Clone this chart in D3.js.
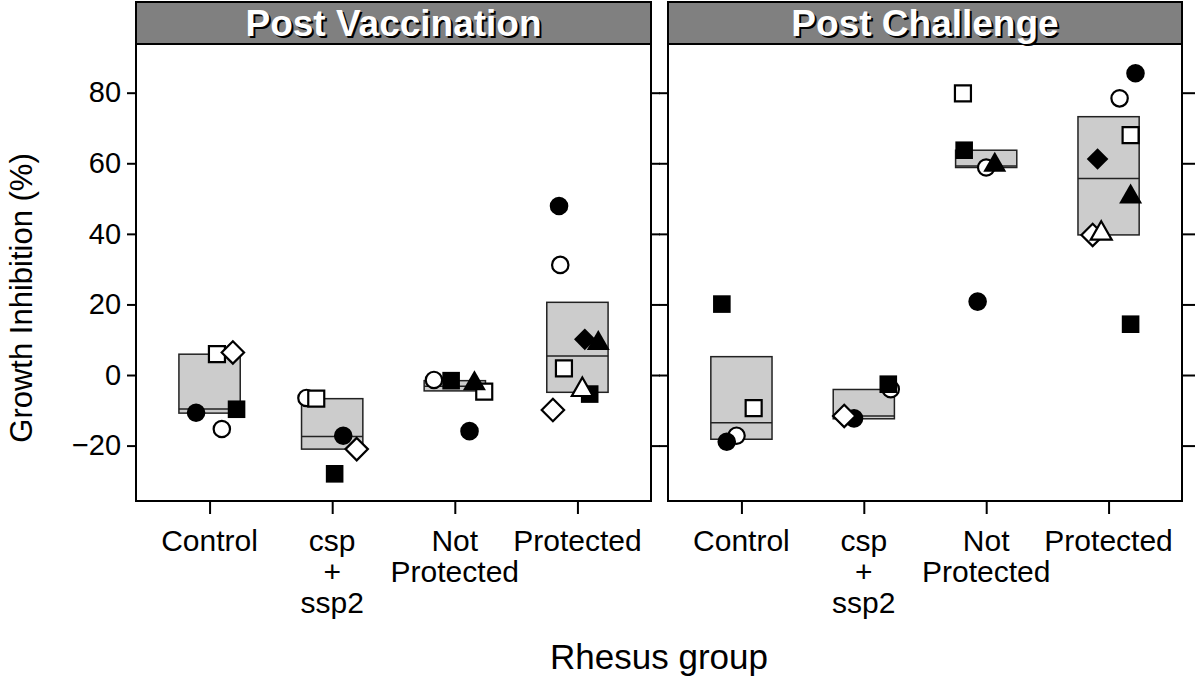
<!DOCTYPE html>
<html>
<head>
<meta charset="utf-8">
<script src="https://cdn.jsdelivr.net/npm/d3@7"></script>
<style>
  body { margin: 0; background: #fff; }
  svg { display: block; }
  text { font-family: "Liberation Sans", Arial, Helvetica, sans-serif; }
</style>
</head>
<body>
<svg id="chart" width="1200" height="677"></svg>
<script>
// ---------------- data ----------------
const panelTitles = ["Post Vaccination", "Post Challenge"];
const groups = ["Control", "csp+ssp2", "Not Protected", "Protected"];
const groupLabelLines = [["Control"], ["csp", "+", "ssp2"], ["Not", "Protected"], ["Protected"]];
const yTicks = [-20, 0, 20, 40, 60, 80];
const yTitle = "Growth Inhibition (%)";
const xTitle = "Rhesus group";

// box summaries per group: [low, median, high]
const boxPostVaccination = [[-10.8, -9.6, 5.9], [-21.0, -17.4, -6.7], [-4.5, -3.2, -1.6], [-4.9, 5.4, 20.6]];
const boxPostChallenge   = [[-18.2, -13.5, 5.2], [-12.4, -11.6, -4.1], [58.8, 59.2, 63.7], [39.7, 55.7, 73.2]];

// animals: [group index, symbol, value (%), horizontal jitter (category units)]
const animalsPostVaccination = [
  [0, "openCircle", -15.3, 0.10], [0, "filledCircle", -10.7, -0.11], [0, "openSquare", 5.9, 0.06],
  [0, "filledSquare", -9.7, 0.22], [0, "openDiamond", 6.4, 0.19],
  [1, "openCircle", -6.5, -0.21], [1, "filledCircle", -17.2, 0.09], [1, "openSquare", -6.7, -0.13],
  [1, "filledSquare", -28.0, 0.02], [1, "openDiamond", -21.0, 0.20],
  [2, "openCircle", -1.4, -0.17], [2, "filledCircle", -15.9, 0.12], [2, "openSquare", -4.7, 0.24],
  [2, "filledSquare", -1.6, -0.03], [2, "filledTriangle", -2.4, 0.16],
  [3, "openCircle", 31.2, -0.14], [3, "filledCircle", 47.9, -0.15], [3, "openSquare", 1.9, -0.11],
  [3, "filledSquare", -5.4, 0.10], [3, "openDiamond", -9.9, -0.20], [3, "filledDiamond", 10.1, 0.06],
  [3, "openTriangle", -4.2, 0.04], [3, "filledTriangle", 9.0, 0.17]
];
const animalsPostChallenge = [
  [0, "openCircle", -17.2, -0.04], [0, "filledCircle", -18.9, -0.12], [0, "openSquare", -9.4, 0.10],
  [0, "filledSquare", 20.1, -0.16],
  [1, "openCircle", -4.0, 0.22], [1, "filledCircle", -12.3, -0.08], [1, "filledSquare", -2.6, 0.20],
  [1, "openDiamond", -11.6, -0.16],
  [2, "openCircle", 58.8, 0.00], [2, "filledCircle", 20.8, -0.07], [2, "openSquare", 79.8, -0.19],
  [2, "filledSquare", 63.7, -0.18], [2, "filledTriangle", 59.5, 0.07],
  [3, "openCircle", 78.4, 0.09], [3, "filledCircle", 85.5, 0.22], [3, "openSquare", 68.0, 0.18],
  [3, "filledSquare", 14.4, 0.18], [3, "openDiamond", 39.7, -0.13], [3, "filledDiamond", 61.2, -0.09],
  [3, "openTriangle", 40.1, -0.06], [3, "filledTriangle", 50.5, 0.18]
];
const symbolOrder = ["openCircle", "filledCircle", "openSquare", "filledSquare",
                     "openDiamond", "filledDiamond", "openTriangle", "filledTriangle"];

// ---------------- layout ----------------
const svg = d3.select("#chart");
const panelX = [[136, 651], [668, 1182]];
const stripTop = 2, plotTop = 44, plotBottom = 501;

const y = d3.scaleLinear().domain([-35.7, 93.8]).range([plotBottom, plotTop]);

function symbolPath(kind) {
  const p = d3.path();
  if (kind.endsWith("Circle")) {
    const r = kind.startsWith("open") ? 8.2 : 9.3;
    p.arc(0, 0, r, 0, 2 * Math.PI); p.closePath();
  } else if (kind.endsWith("Square")) {
    const h = kind.startsWith("open") ? 8 : 8.8;
    p.rect(-h, -h, 2 * h, 2 * h);
  } else if (kind.endsWith("Diamond")) {
    const h = kind.startsWith("open") ? 11.2 : 10.8;
    p.moveTo(0, -h); p.lineTo(h, 0); p.lineTo(0, h); p.lineTo(-h, 0); p.closePath();
  } else {
    const w = kind.startsWith("open") ? 10.5 : 11.5, ht = kind.startsWith("open") ? 18.5 : 20;
    p.moveTo(0, -ht * 2 / 3); p.lineTo(w, ht / 3); p.lineTo(-w, ht / 3); p.closePath();
  }
  return p.toString();
}

const panelsData = [
  { boxes: boxPostVaccination, animals: animalsPostVaccination },
  { boxes: boxPostChallenge, animals: animalsPostChallenge }
];

panelsData.forEach((pd, pi) => {
  const [x0, x1] = panelX[pi];
  const x = d3.scaleLinear().domain([0.4, 4.6]).range([x0, x1]);
  const g = svg.append("g");

  // boxes
  const bw = 0.5;
  pd.boxes.forEach((b, gi) => {
    const cx = gi + 1;
    g.append("rect")
      .attr("x", x(cx - bw / 2)).attr("width", x(cx + bw / 2) - x(cx - bw / 2))
      .attr("y", y(b[2])).attr("height", y(b[0]) - y(b[2]))
      .attr("fill", "#cccccc").attr("stroke", "#222").attr("stroke-width", 1.5);
    g.append("line")
      .attr("x1", x(cx - bw / 2)).attr("x2", x(cx + bw / 2))
      .attr("y1", y(b[1])).attr("y2", y(b[1]))
      .attr("stroke", "#222").attr("stroke-width", 1.5);
  });

  // points
  const pts = pd.animals.slice().sort((a, b) => symbolOrder.indexOf(a[1]) - symbolOrder.indexOf(b[1]));
  g.selectAll("path.pt").data(pts).join("path")
    .attr("class", "pt")
    .attr("d", d => symbolPath(d[1]))
    .attr("transform", d => `translate(${x(d[0] + 1 + d[3])},${y(d[2])})`)
    .attr("fill", d => d[1].startsWith("open") ? "#fff" : "#000")
    .attr("stroke", d => d[1].startsWith("open") ? "#000" : "none")
    .attr("stroke-width", 2.2);

  // panel border
  g.append("rect").attr("x", x0).attr("y", plotTop).attr("width", x1 - x0).attr("height", plotBottom - plotTop)
    .attr("fill", "none").attr("stroke", "#000").attr("stroke-width", 2);

  // strip
  g.append("rect").attr("x", x0).attr("y", stripTop).attr("width", x1 - x0).attr("height", plotTop - stripTop)
    .attr("fill", "#808080").attr("stroke", "#000").attr("stroke-width", 2);
  const tx = (x0 + x1) / 2, ty = 36;
  g.append("text").attr("x", tx + 2).attr("y", ty + 2).attr("text-anchor", "middle")
    .attr("font-size", 37).attr("font-weight", "bold").attr("fill", "#000").text(panelTitles[pi]);
  g.append("text").attr("x", tx).attr("y", ty).attr("text-anchor", "middle")
    .attr("font-size", 37).attr("font-weight", "bold").attr("fill", "#fff").text(panelTitles[pi]);

  // x axis
  const xAxis = d3.axisBottom(x).tickValues([1, 2, 3, 4]).tickSize(13).tickFormat("");
  const xa = g.append("g").attr("transform", `translate(0,${plotBottom})`).call(xAxis);
  xa.select(".domain").remove();
  xa.selectAll(".tick line").attr("stroke", "#000").attr("stroke-width", 2);
  groupLabelLines.forEach((lines, gi) => {
    const t = g.append("text").attr("text-anchor", "middle").attr("font-size", 30).attr("fill", "#000");
    lines.forEach((ln, li) => {
      t.append("tspan").attr("x", x(gi + 1)).attr("y", 551 + li * 31).text(ln);
    });
  });

  // y ticks both sides
  const yLeft = d3.axisLeft(y).tickValues(yTicks).tickSize(9).tickFormat(pi === 0 ? (d => d3.format("d")(d).replace("-", "\u2212")) : "");
  const yl = g.append("g").attr("transform", `translate(${x0},0)`).call(yLeft);
  const yRight = d3.axisRight(y).tickValues(yTicks).tickSize(pi === 1 ? 13 : 9).tickFormat("");
  const yr = g.append("g").attr("transform", `translate(${x1},0)`).call(yRight);
  [yl, yr].forEach(a => {
    a.select(".domain").remove();
    a.selectAll(".tick line").attr("stroke", "#000").attr("stroke-width", 2);
    a.selectAll(".tick text").attr("font-size", 29).attr("fill", "#000")
      .attr("font-family", "Liberation Sans, Arial, sans-serif").attr("dx", "-0.1em");
  });
});

// axis titles
svg.append("text").attr("transform", `translate(32,298) rotate(-90)`)
  .attr("text-anchor", "middle").attr("font-size", 31).attr("fill", "#000").text(yTitle);
svg.append("text").attr("x", 659).attr("y", 669).attr("text-anchor", "middle")
  .attr("font-size", 35).attr("fill", "#000").text(xTitle);
</script>
</body>
</html>
